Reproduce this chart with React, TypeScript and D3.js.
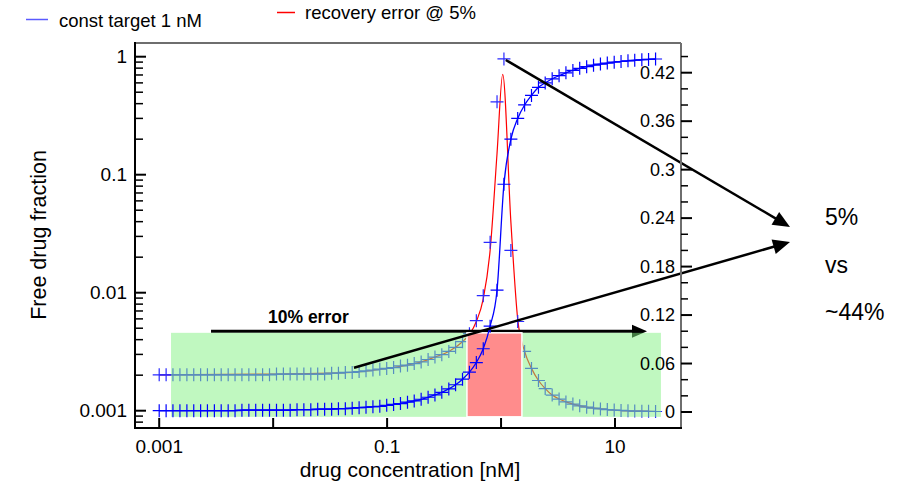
import React from 'react';
import * as d3 from 'd3';

// shared concentration grid of the simulated points [nM]
const conc = [
  0.001, 0.00115, 0.00132, 0.00152, 0.00175, 0.00201, 0.00231, 0.00265, 0.00305, 0.0035,
  0.00403, 0.00463, 0.00532, 0.00612, 0.00703, 0.00808, 0.00929, 0.0107, 0.0123, 0.0141,
  0.0162, 0.0186, 0.0214, 0.0246, 0.0283, 0.0326, 0.0374, 0.043, 0.0494, 0.0568,
  0.0653, 0.0751, 0.0863, 0.0992, 0.114, 0.131, 0.151, 0.173, 0.199, 0.229,
  0.263, 0.302, 0.348, 0.399, 0.459, 0.528, 0.607, 0.698, 0.802, 0.922,
  1.06, 1.22, 1.4, 1.61, 1.85, 2.13, 2.44, 2.81, 3.23, 3.71,
  4.27, 4.9, 5.64, 6.48, 7.45, 8.56, 9.84, 11.3, 13.0, 14.9,
  17.2, 19.7, 22.7,
];

// const target 1 nM : free drug fraction (left axis)
const freeFraction = [
  0.001, 0.001, 0.001, 0.001, 0.001, 0.001, 0.001, 0.001, 0.001, 0.001,
  0.001, 0.001, 0.00101, 0.00101, 0.00101, 0.00101, 0.00101, 0.00101, 0.00101, 0.00101,
  0.00102, 0.00102, 0.00102, 0.00103, 0.00103, 0.00103, 0.00104, 0.00104, 0.00105, 0.00106,
  0.00107, 0.00108, 0.00109, 0.00111, 0.00113, 0.00115, 0.00118, 0.00121, 0.00125, 0.0013,
  0.00136, 0.00143, 0.00153, 0.00166, 0.00185, 0.00212, 0.00256, 0.00335, 0.0052, 0.0105,
  0.083, 0.2, 0.3, 0.39, 0.47, 0.55, 0.6, 0.65, 0.69, 0.73,
  0.765, 0.797, 0.823, 0.847, 0.866, 0.883, 0.898, 0.911, 0.923, 0.933,
  0.942, 0.949, 0.956,
];

// recovery error @ 5% : simulated points (right axis)
const recoveryErr = [
  0.046, 0.046, 0.046, 0.046, 0.046, 0.046, 0.046, 0.046, 0.046, 0.046,
  0.046, 0.046, 0.046, 0.046, 0.046, 0.046, 0.046, 0.047, 0.047, 0.047,
  0.047, 0.047, 0.047, 0.047, 0.047, 0.048, 0.048, 0.049, 0.049, 0.05,
  0.051, 0.052, 0.053, 0.054, 0.055, 0.057, 0.058, 0.06, 0.062, 0.065,
  0.068, 0.071, 0.075, 0.08, 0.087, 0.097, 0.113, 0.144, 0.21, 0.384,
  0.437, 0.2, 0.112, 0.075, 0.054, 0.039, 0.029, 0.021, 0.016, 0.0125,
  0.0098, 0.0076, 0.006, 0.0048, 0.0038, 0.003, 0.0024, 0.0019, 0.0015, 0.0012,
  0.001, 0.0008, 0.0006,
];

// recovery error @ 5% : fitted curve (right axis)
const fitConc = [
  0.001, 0.0107, 0.0494, 0.0992, 0.151, 0.199, 0.263, 0.348, 0.459, 0.528,
  0.607, 0.698, 0.802, 0.922, 1.034, 1.22, 1.4, 1.61, 1.85, 2.13,
  2.44, 2.81, 3.23, 3.71, 4.27, 5.64, 7.45, 9.84, 13.0, 17.2, 22.7,
];
const fitErr = [
  0.046, 0.047, 0.049, 0.054, 0.058, 0.062, 0.068, 0.075, 0.087, 0.096,
  0.112, 0.14, 0.2, 0.32, 0.418, 0.235, 0.115, 0.075, 0.054, 0.039,
  0.029, 0.021, 0.016, 0.0125, 0.0098, 0.006, 0.0038, 0.0024, 0.0015, 0.001, 0.0006,
];

const xTicks = [0.001, 0.01, 0.1, 1, 10];
const xTickLabels = ['0.001', '', '0.1', '', '10'];
const yLeftTicks = [0.001, 0.01, 0.1, 1];
const yLeftLabels = ['0.001', '0.01', '0.1', '1'];
const yRightTicks = [0, 0.06, 0.12, 0.18, 0.24, 0.3, 0.36, 0.42];
const yRightLabels = ['0', '0.06', '0.12', '0.18', '0.24', '0.3', '0.36', '0.42'];

const seriesNames = ['const target 1 nM', 'recovery error @ 5%'];
const noteLines = ['5%', 'vs', '~44%'];

const W = 907;
const H = 485;
const FRAME = { left: 135, right: 681, top: 43, bottom: 428 };
const FONT = 'Liberation Sans, Arial, Helvetica, sans-serif';

const x = d3.scaleLog().domain([0.001, 10]).range([159.2, 615]);
const yL = d3.scaleLog().domain([0.001, 1]).range([410.7, 56.7]);
const yR = d3.scaleLinear().domain([0, 0.42]).range([412, 72.7]);

function arrowHead(x1: number, y1: number, x2: number, y2: number, len = 17, half = 7.5) {
  const a = Math.atan2(y2 - y1, x2 - x1);
  const bx = x2 - len * Math.cos(a);
  const by = y2 - len * Math.sin(a);
  const px = -Math.sin(a) * half;
  const py = Math.cos(a) * half;
  return `M${x2},${y2}L${bx + px},${by + py}L${bx - px},${by - py}Z`;
}

export default function App() {
  const bluePts = conc.map((c, i) => [x(c), yL(freeFraction[i])] as [number, number]);
  const redPts = conc.map((c, i) => [x(c), yR(recoveryErr[i])] as [number, number]);
  const fitPts = fitConc.map((c, i) => [x(c), yR(fitErr[i])] as [number, number]);
  const line = d3.line().curve(d3.curveMonotoneX);
  const plus = 'M-6.5,0H6.5M0,-6.5V6.5';

  const leftMinor: number[] = [];
  [0.0001, 0.001, 0.01, 0.1].forEach((d) => {
    for (let m = 2; m <= 9; m++) leftMinor.push(d * m);
  });
  const leftMinorVis = leftMinor.filter((v) => yL(v) <= FRAME.bottom - 1 && yL(v) >= FRAME.top);
  const rightMinor = d3.range(0, 0.4401, 0.02).filter((v) => Math.abs(v / 0.06 - Math.round(v / 0.06)) > 0.01);

  // overlay annotations (in data coordinates)
  const green = { x0: x(0.00127), x1: x(25.3), y0: yR(0.098), y1: yR(-0.006) };
  const red = { x0: x(0.502), x1: x(1.524), y0: yR(0.098), y1: yR(-0.006) };
  const hArrow = { x1: x(0.00285), x2: x(19.1), y: yR(0.1) };
  const target = [790, 227];
  const target2 = [790, 242];
  const upStart = [x(1.1), 60];
  const lowStart = [354, 367.7];

  return (
    <svg width={W} height={H} style={{ position: 'absolute', left: 0, top: 0, background: '#fff' }} fontFamily={FONT}>
      <rect x={0} y={0} width={W} height={H} fill="#fff" />

      {/* recovery error series (under the green overlay) */}
      <path d={line(fitPts) || ''} fill="none" stroke="#ff0000" strokeWidth={1.2} />
      {redPts.map((p, i) => (
        <path key={'r' + i} d={plus} transform={`translate(${p[0]},${p[1]})`} stroke="#2a2aff" strokeWidth={1.2} fill="none" />
      ))}

      {/* 10% error arrow */}
      <line x1={hArrow.x1} x2={hArrow.x2 - 12} y1={hArrow.y} y2={hArrow.y} stroke="#000" strokeWidth={3} />
      <path d={arrowHead(hArrow.x1, hArrow.y, hArrow.x2, hArrow.y, 15, 6.5)} fill="#000" />
      <text x={268} y={323} fontSize={17.5} fontWeight="bold" fill="#000">10% error</text>

      {/* overlays */}
      <rect x={green.x0} y={green.y0} width={green.x1 - green.x0} height={green.y1 - green.y0} fill="#81f181" fillOpacity={0.5} />
      <rect x={red.x0} y={red.y0} width={red.x1 - red.x0} height={red.y1 - red.y0} fill="#ff8c8c" stroke="#fff" strokeWidth={1.5} />

      {/* const target series */}
      <path d={line(bluePts) || ''} fill="none" stroke="#0000ff" strokeWidth={1.3} />
      {bluePts.map((p, i) => (
        <path key={'b' + i} d={plus} transform={`translate(${p[0]},${p[1]})`} stroke="#0000ff" strokeWidth={1.2} fill="none" />
      ))}

      {/* diagonal arrows */}
      <line x1={upStart[0]} y1={upStart[1]} x2={target[0] - 12} y2={target[1] - 7.2} stroke="#000" strokeWidth={2.5} />
      <path d={arrowHead(upStart[0], upStart[1], target[0], target[1])} fill="#000" />
      <line x1={lowStart[0]} y1={lowStart[1]} x2={target2[0] - 13} y2={target2[1] + 3.8} stroke="#000" strokeWidth={2.5} />
      <path d={arrowHead(lowStart[0], lowStart[1], target2[0], target2[1])} fill="#000" />

      {/* frame */}
      <line x1={FRAME.left} x2={FRAME.right} y1={FRAME.top} y2={FRAME.top} stroke="#6e6e6e" strokeWidth={2} />
      <line x1={FRAME.right} x2={FRAME.right} y1={FRAME.top} y2={FRAME.bottom} stroke="#6e6e6e" strokeWidth={2} />
      <line x1={FRAME.left} x2={FRAME.left} y1={FRAME.top - 1} y2={FRAME.bottom + 1} stroke="#000" strokeWidth={2} />
      <line x1={FRAME.left - 1} x2={FRAME.right + 1} y1={FRAME.bottom} y2={FRAME.bottom} stroke="#000" strokeWidth={2} />

      {/* left axis */}
      {yLeftTicks.map((t, i) => (
        <g key={'yl' + i}>
          <line x1={FRAME.left} x2={FRAME.left + 11} y1={yL(t)} y2={yL(t)} stroke="#000" strokeWidth={2} />
          <text x={127} y={yL(t)} dy="0.35em" textAnchor="end" fontSize={19}>{yLeftLabels[i]}</text>
        </g>
      ))}
      {leftMinorVis.map((t, i) => (
        <line key={'ylm' + i} x1={FRAME.left} x2={FRAME.left + 8} y1={yL(t)} y2={yL(t)} stroke="#000" strokeWidth={1.5} />
      ))}

      {/* right axis */}
      {yRightTicks.map((t, i) => (
        <g key={'yr' + i}>
          <line x1={FRAME.right} x2={FRAME.right + 11} y1={yR(t)} y2={yR(t)} stroke="#000" strokeWidth={2} />
          <text x={675} y={yR(t)} dy="0.35em" textAnchor="end" fontSize={18}>{yRightLabels[i]}</text>
        </g>
      ))}
      {rightMinor.map((t, i) => (
        <line key={'yrm' + i} x1={FRAME.right} x2={FRAME.right + 7} y1={yR(t)} y2={yR(t)} stroke="#000" strokeWidth={1.5} />
      ))}

      {/* bottom axis */}
      {xTicks.map((t, i) => (
        <g key={'x' + i}>
          <line x1={x(t)} x2={x(t)} y1={FRAME.bottom} y2={FRAME.bottom - 10} stroke="#000" strokeWidth={2} />
          <text x={x(t)} y={453} textAnchor="middle" fontSize={19}>{xTickLabels[i]}</text>
        </g>
      ))}

      {/* axis titles */}
      <text x={410} y={477} textAnchor="middle" fontSize={21}>drug concentration [nM]</text>
      <text transform="translate(46,235) rotate(-90)" textAnchor="middle" fontSize={21.5}>Free drug fraction</text>

      {/* legend */}
      <line x1={26} x2={48} y1={19.5} y2={19.5} stroke="#5a5aff" strokeWidth={1.5} />
      <text x={59} y={27} fontSize={18.5}>{seriesNames[0]}</text>
      <line x1={277} x2={295} y1={12.5} y2={12.5} stroke="#ff0000" strokeWidth={1.5} />
      <text x={305} y={18.5} fontSize={18.5}>{seriesNames[1]}</text>

      {/* note */}
      {noteLines.map((t, i) => (
        <text key={'n' + i} x={825} y={225 + i * 47.5} fontSize={23}>{t}</text>
      ))}
    </svg>
  );
}
